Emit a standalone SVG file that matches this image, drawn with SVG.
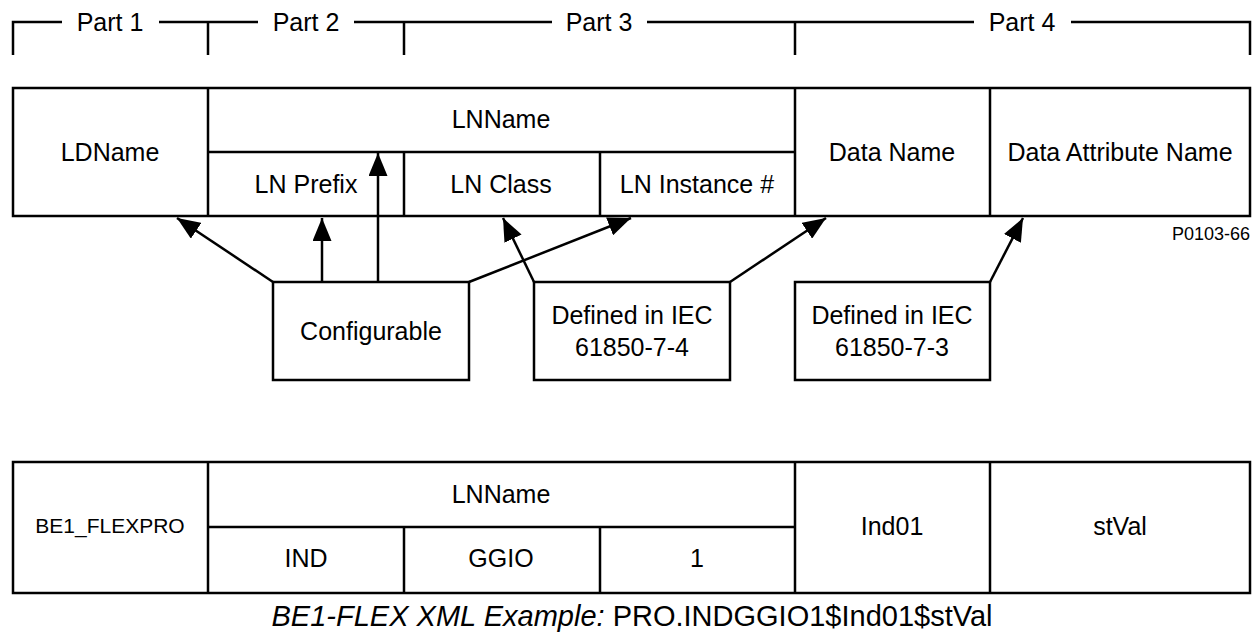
<svg xmlns="http://www.w3.org/2000/svg" width="1257" height="635" viewBox="0 0 1257 635">
<defs>
<style>
.ln{stroke:#000;stroke-width:2.5;fill:none}
.bx{stroke:#000;stroke-width:2.5;fill:#fff}
.t{font-family:"Liberation Sans",Arial,sans-serif;font-size:25px;fill:#000;text-anchor:middle}
.s{font-size:21px}
.p{font-size:18px;text-anchor:end}
.cap{font-family:"Liberation Sans",Arial,sans-serif;font-size:29px;fill:#000;text-anchor:middle}
.ar{stroke:#000;stroke-width:2.5;fill:none;marker-end:url(#ah)}
</style>
<marker id="ah" markerUnits="userSpaceOnUse" markerWidth="23" markerHeight="19" refX="23" refY="9.5" orient="auto">
<path d="M0,0 L23,9.5 L0,19 z" fill="#000"/>
</marker>
</defs>
<rect width="1257" height="635" fill="#fff"/>

<g id="parts">
<path class="ln" d="M13,55 V22 H62 M159,22 H258 M208,22 V55 M354,22 H552 M404,22 V55 M647,22 H974 M795,22 V55 M1071,22 H1250 V55"/>
<text class="t" x="110" y="31">Part 1</text>
<text class="t" x="306" y="31">Part 2</text>
<text class="t" x="599" y="31">Part 3</text>
<text class="t" x="1022" y="31">Part 4</text>
</g>

<g id="top-table">
<rect class="bx" x="13" y="88" width="1237" height="128"/>
<path class="ln" d="M208,88 V216 M795,88 V216 M990,88 V216 M208,152 H795 M404,152 V216 M600,152 V216"/>
<text class="t" x="110" y="161">LDName</text>
<text class="t" x="501" y="128">LNName</text>
<text class="t" x="306" y="193">LN Prefix</text>
<text class="t" x="501" y="193">LN Class</text>
<text class="t" x="697" y="193">LN Instance #</text>
<text class="t" x="892" y="161">Data Name</text>
<text class="t" x="1120" y="161">Data Attribute Name</text>
<text class="t p" x="1250" y="240">P0103-66</text>
</g>

<g id="configurable">
<rect class="bx" x="273" y="282" width="196" height="98"/>
<text class="t" x="371" y="340">Configurable</text>
</g>

<g id="iec-7-4">
<rect class="bx" x="534" y="282" width="196" height="98"/>
<text class="t" x="632" y="324">Defined in IEC</text>
<text class="t" x="632" y="356">61850-7-4</text>
</g>

<g id="iec-7-3">
<rect class="bx" x="795" y="282" width="195" height="98"/>
<text class="t" x="892" y="324">Defined in IEC</text>
<text class="t" x="892" y="356">61850-7-3</text>
</g>

<g id="connectors">
<line class="ar" x1="273" y1="282" x2="177" y2="218"/>
<line class="ar" x1="322" y1="282" x2="322" y2="218"/>
<line class="ar" x1="378" y1="282" x2="378" y2="153"/>
<line class="ar" x1="469" y1="282" x2="631" y2="218"/>
<line class="ar" x1="534" y1="282" x2="503" y2="218"/>
<line class="ar" x1="730" y1="282" x2="826" y2="218"/>
<line class="ar" x1="990" y1="282" x2="1023" y2="218"/>
</g>

<g id="bottom-table">
<rect class="bx" x="13" y="462" width="1237" height="131"/>
<path class="ln" d="M208,462 V593 M795,462 V593 M990,462 V593 M208,527 H795 M404,527 V593 M600,527 V593"/>
<text class="t s" x="110" y="533">BE1_FLEXPRO</text>
<text class="t" x="501" y="503">LNName</text>
<text class="t" x="306" y="567">IND</text>
<text class="t" x="501" y="567">GGIO</text>
<text class="t" x="697" y="567">1</text>
<text class="t" x="892" y="535">Ind01</text>
<text class="t" x="1120" y="535">stVal</text>
</g>

<g id="caption">
<text class="cap" x="632" y="626"><tspan font-style="italic">BE1-FLEX XML Example:</tspan> PRO.INDGGIO1$Ind01$stVal</text>
</g>
</svg>
